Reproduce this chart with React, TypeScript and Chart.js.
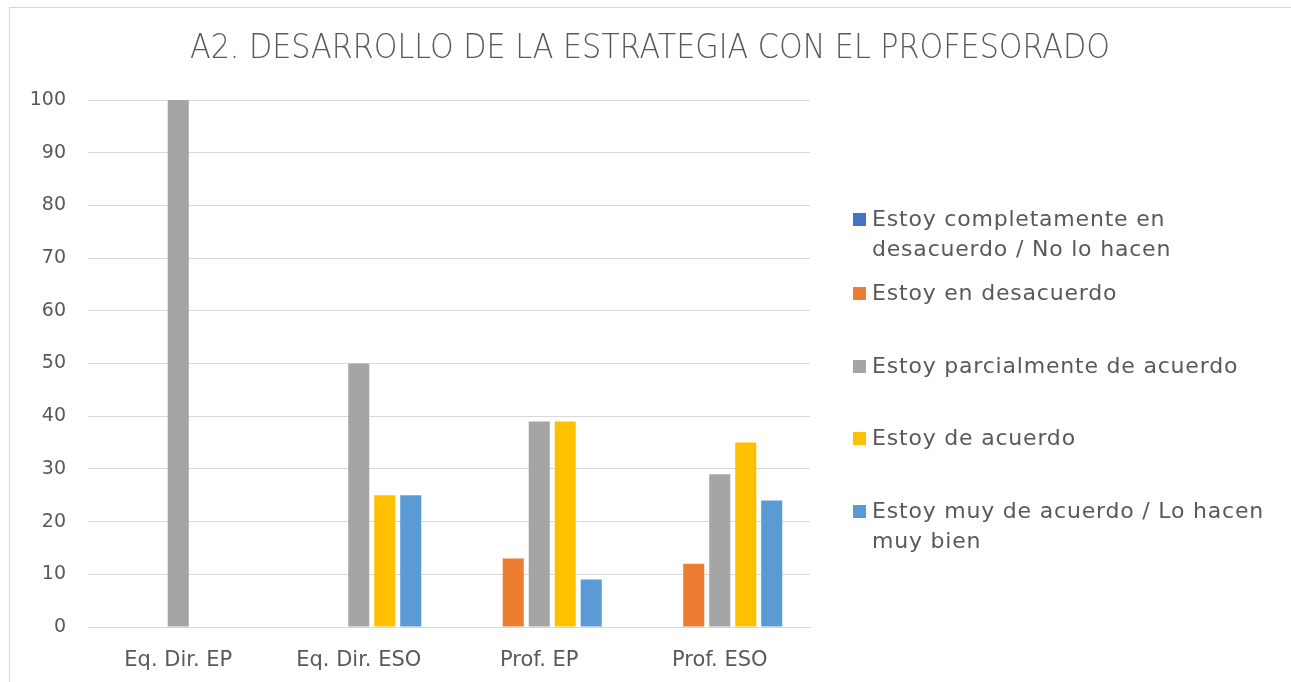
import React, { useEffect, useRef } from "react";
import { Chart, registerables } from "chart.js";

Chart.register(...registerables);

const chartTitle = "A2. DESARROLLO DE LA ESTRATEGIA CON EL PROFESORADO";
const categories = ["Eq. Dir. EP", "Eq. Dir. ESO", "Prof. EP", "Prof. ESO"];
const seriesNames = [
  "Estoy completamente en desacuerdo / No lo hacen",
  "Estoy en desacuerdo",
  "Estoy parcialmente de acuerdo",
  "Estoy de acuerdo",
  "Estoy muy de acuerdo / Lo hacen muy bien",
];
const legendLines = [
  ["Estoy completamente en", "desacuerdo / No lo hacen"],
  ["Estoy en desacuerdo"],
  ["Estoy parcialmente de acuerdo"],
  ["Estoy de acuerdo"],
  ["Estoy muy de acuerdo / Lo hacen", "muy bien"],
];
const completelyDisagree = [0, 0, 0, 0];
const disagree = [0, 0, 13, 12];
const partiallyAgree = [100, 50, 39, 29];
const agree = [0, 25, 39, 35];
const stronglyAgree = [0, 25, 9, 24];
const seriesValues = [completelyDisagree, disagree, partiallyAgree, agree, stronglyAgree];
const seriesColors = ["#4472C4", "#ED7D31", "#A5A5A5", "#FFC000", "#5B9BD5"];
const yMin = 0;
const yMax = 100;
const yStep = 10;

const W = 1291;
const H = 682;
const FONT = "'DejaVu Sans', sans-serif";
const TEXT = "#595959";

const decorPlugin = {
  id: "decor",
  beforeDraw(chart: any) {
    const ctx = chart.ctx;
    ctx.save();
    ctx.fillStyle = "#ffffff";
    ctx.fillRect(0, 0, W, H);
    ctx.strokeStyle = "#D9D9D9";
    ctx.lineWidth = 1;
    ctx.strokeRect(9.5, 7.5, W + 20, H + 20);
    ctx.restore();
  },
  afterDraw(chart: any) {
    const ctx = chart.ctx;
    ctx.save();
    // title
    ctx.fillStyle = TEXT;
    ctx.font = `300 33px ${FONT}`;
    ctx.textAlign = "center";
    ctx.textBaseline = "middle";
    ctx.fillText(chartTitle, 650, 49, 920);
    // legend
    ctx.font = `22px ${FONT}`;
    (ctx as any).letterSpacing = "0.8px";
    ctx.textAlign = "left";
    const tops = [220, 294, 367, 439, 512];
    legendLines.forEach((lines, i) => {
      const y = tops[i];
      ctx.fillStyle = seriesColors[i];
      ctx.fillRect(853, y - 7, 13, 13);
      ctx.fillStyle = TEXT;
      lines.forEach((ln, j) => {
        ctx.fillText(ln, 872, y + j * 30);
      });
    });
    (ctx as any).letterSpacing = "0px";
    ctx.restore();
  },
};

export default function App() {
  const ref = useRef<HTMLCanvasElement | null>(null);
  useEffect(() => {
    if (!ref.current) return;
    const chart = new Chart(ref.current, {
      type: "bar",
      data: {
        labels: categories,
        datasets: seriesNames.map((name, i) => ({
          label: name,
          data: seriesValues[i],
          backgroundColor: seriesColors[i],
          borderWidth: 0,
          categoryPercentage: 0.72,
          barPercentage: 0.81,
        })),
      },
      options: {
        responsive: false,
        animation: false,
        layout: { padding: { top: 100, right: W - 810, bottom: 0, left: 0 } },
        plugins: {
          legend: { display: false },
          title: { display: false },
          tooltip: { enabled: false },
        },
        scales: {
          x: {
            grid: { display: false, drawTicks: false },
            border: { display: true, color: "#D9D9D9", width: 1 },
            ticks: { color: TEXT, font: { family: FONT, size: 21 }, padding: 21 },
            afterFit(scale: any) {
              scale.height = H - 627;
            },
          },
          y: {
            min: yMin,
            max: yMax,
            grid: { color: "#D9D9D9", lineWidth: 1, drawTicks: false },
            border: { display: false },
            ticks: {
              stepSize: yStep,
              color: TEXT,
              font: { family: FONT, size: 19 },
              padding: 22,
            },
            afterFit(scale: any) {
              scale.width = 88;
            },
          },
        },
      },
      plugins: [decorPlugin],
    });
    return () => chart.destroy();
  }, []);
  return (
    <div style={{ position: "fixed", left: 0, top: 0, width: W, height: H }}>
      <canvas ref={ref} width={W} height={H} style={{ display: "block" }} />
    </div>
  );
}
